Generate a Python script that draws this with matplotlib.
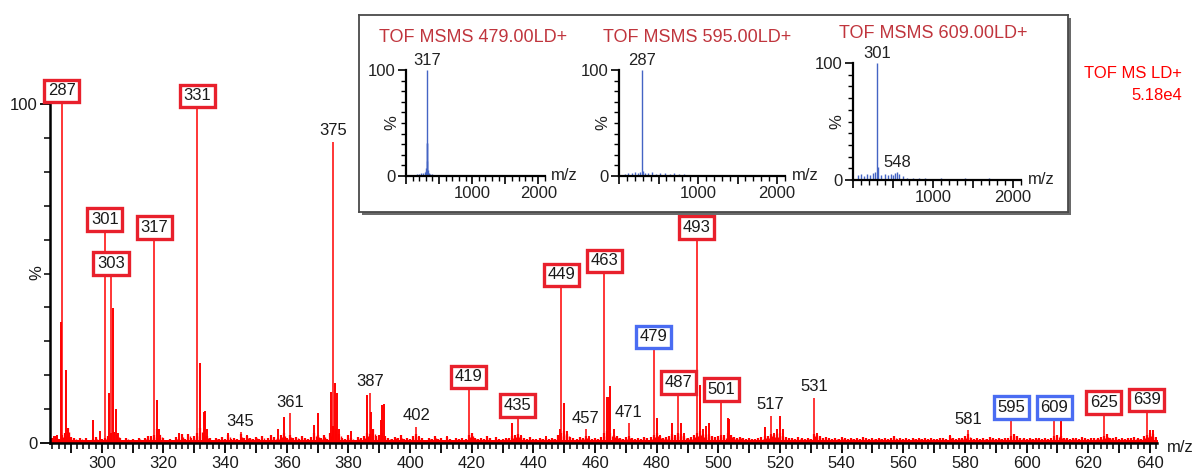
import matplotlib
matplotlib.use("Agg")
import matplotlib.pyplot as plt
from matplotlib.patches import Rectangle
from matplotlib.ticker import MultipleLocator, FixedLocator, FuncFormatter

plt.rcParams["font.family"] = ["Liberation Sans", "DejaVu Sans"]

# ---------------------------------------------------------------- data
# labelled peaks (m/z, relative intensity %)
red_box_mz = [287, 301, 303, 317, 331, 419, 435, 449, 463, 487, 493, 501, 625, 639]
red_box_int = [100, 62.0, 49.0, 59.6, 98.5, 15.6, 7.1, 45.7, 49.8, 13.9, 59.6, 11.8, 8.0, 8.8]

blue_box_mz = [479, 595, 609]
blue_box_int = [27.4, 6.5, 6.5]

plain_mz = [345, 361, 375, 387, 402, 457, 471, 517, 531, 581]
plain_int = [3.2, 8.8, 88.8, 14.8, 4.8, 4.0, 5.9, 8.0, 13.3, 3.8]

# other visible peaks without labels
minor_mz = [284.6, 285.6, 286.7, 288.5, 289.2, 297.3, 299.5, 302.3, 303.5, 304.5,
            305.2, 317.8, 318.5, 325.0, 332.0, 333.0, 333.4, 334.2, 341.0, 347.0,
            355.0, 357.0, 359.0, 369.0, 370.2, 372.0, 374.3, 375.7, 376.3, 377.0,
            381.0, 386.1, 387.3, 390.6, 391.0, 391.5, 397.0, 403.0, 412.0, 420.0,
            433.2, 436.0, 444.0, 448.6, 450.0, 451.0, 458.0, 464.0, 464.5, 465.0,
            466.0, 480.0, 481.0, 485.0, 488.0, 489.0, 494.0, 495.0, 496.0, 497.0,
            503.0, 503.5, 515.0, 518.0, 519.0, 520.0, 521.0, 532.0, 557.0, 575.0,
            596.0, 611.0, 626.0, 640.0, 641.0]
minor_int = [2.0, 2.5, 35.7, 21.5, 4.5, 6.8, 3.5, 14.8, 39.8, 10.0,
             3.0, 12.7, 4.0, 3.0, 23.6, 9.0, 9.3, 4.0, 3.0, 2.5,
             2.5, 4.0, 7.7, 5.3, 8.8, 2.5, 15.0, 17.7, 14.8, 4.0,
             3.5, 14.2, 9.0, 6.8, 11.2, 11.5, 2.5, 2.0, 2.0, 3.0,
             5.9, 2.5, 2.0, 4.0, 11.8, 3.5, 2.0, 13.6, 13.6, 16.8,
             4.0, 7.4, 2.5, 5.9, 6.0, 3.0, 17.1, 4.0, 5.0, 6.0,
             7.4, 7.0, 4.8, 3.0, 4.0, 8.0, 4.0, 3.0, 2.0, 2.5,
             2.5, 6.5, 2.5, 3.8, 3.8]

# baseline noise, one value per nominal mass from m/z 284 to 642
noise_start = 284
noise_int = [
    1.5, 2.0, 1.2, 2.5, 3.0, 4.5, 1.8, 1.5, 1.0, 1.6,
    0.8, 1.4, 1.0, 1.2, 1.7, 1.0, 1.3, 1.6, 2.0, 3.0,
    3.2, 2.5, 1.4, 1.0, 1.6, 0.9, 1.2, 0.8, 1.5, 1.0,
    1.6, 2.0, 2.2, 2.5, 4.0, 2.5, 1.4, 1.0, 1.2, 0.9,
    1.8, 1.3, 2.6, 1.2, 2.8, 1.5, 2.0, 3.0, 4.5, 3.0,
    2.2, 1.4, 1.0, 1.6, 1.2, 1.8, 1.1, 2.4, 1.3, 1.6,
    1.2, 2.6, 1.4, 2.0, 1.6, 1.1, 1.9, 1.3, 2.2, 1.0,
    1.5, 2.3, 1.8, 1.6, 2.4, 3.0, 1.6, 2.5, 1.4, 1.9,
    1.2, 2.0, 1.5, 1.1, 1.8, 3.0, 2.5, 1.6, 2.4, 1.3,
    3.0, 5.0, 4.0, 2.8, 1.6, 1.2, 2.3, 1.5, 1.0, 1.8,
    1.4, 2.0, 3.0, 2.8, 4.0, 2.0, 2.5, 3.0, 2.2, 1.6,
    1.2, 1.9, 1.4, 2.3, 1.1, 1.6, 1.3, 2.0, 2.8, 1.8,
    1.4, 1.0, 1.6, 1.2, 2.0, 1.1, 1.4, 1.0, 1.8, 1.2,
    1.0, 1.6, 1.2, 1.4, 1.1, 2.5, 3.0, 1.6, 1.2, 1.5,
    1.1, 2.0, 1.4, 1.0, 1.7, 1.3, 1.1, 1.6, 1.4, 2.0,
    2.4, 2.6, 2.0, 1.4, 1.2, 1.8, 1.3, 1.1, 1.6, 1.2,
    1.4, 1.1, 1.5, 1.3, 2.4, 3.0, 3.5, 2.8, 1.8, 1.4,
    1.2, 1.8, 1.5, 2.2, 1.4, 1.1, 1.6, 1.3, 1.8, 3.0,
    3.5, 3.0, 2.4, 2.0, 1.6, 1.3, 1.8, 2.0, 1.5, 1.1,
    1.6, 1.2, 1.9, 1.4, 1.8, 2.5, 3.0, 2.0, 1.5, 1.8,
    2.0, 2.6, 2.4, 3.0, 2.8, 2.2, 1.6, 1.8, 2.4, 3.0,
    3.5, 2.6, 2.4, 2.8, 2.2, 1.8, 2.0, 2.5, 2.3, 3.0,
    2.4, 1.8, 1.5, 1.9, 1.4, 1.2, 1.6, 1.3, 1.1, 1.5,
    1.8, 2.0, 2.2, 2.8, 2.4, 2.6, 3.0, 2.2, 1.8, 1.5,
    1.6, 1.3, 1.8, 1.4, 1.2, 1.5, 1.3, 2.8, 2.5, 2.0,
    1.6, 1.8, 1.4, 1.2, 1.5, 1.3, 1.7, 1.4, 1.1, 1.6,
    1.3, 1.5, 1.2, 1.8, 1.4, 1.1, 1.6, 1.3, 1.5, 1.2,
    1.4, 1.1, 1.6, 2.2, 1.3, 1.5, 1.2, 1.4, 1.1, 1.5,
    1.3, 1.6, 1.2, 1.4, 1.1, 1.5, 1.3, 1.2, 1.6, 1.4,
    1.2, 2.0, 1.4, 1.3, 1.6, 1.5, 2.2, 2.6, 1.6, 1.3,
    1.4, 1.2, 1.5, 1.3, 1.8, 1.4, 1.2, 1.6, 1.3, 1.5,
    1.6, 2.0, 2.8, 2.2, 1.6, 1.4, 1.2, 1.5, 1.3, 1.6,
    1.4, 1.2, 1.6, 1.3, 1.5, 2.0, 2.4, 2.0, 1.6, 1.4,
    1.2, 1.6, 1.4, 1.3, 1.8, 1.5, 1.2, 1.4, 1.6, 1.5,
    1.8, 2.0, 2.6, 1.6, 1.4, 1.7, 1.3, 1.5, 1.2, 1.6,
    1.4, 1.8, 1.5, 1.3, 2.0, 2.5, 3.0, 2.6, 1.8,
]
noise_floor = 0.8

# MS/MS product-ion spectra shown in the inset
msms_titles = ["TOF MSMS 479.00LD+", "TOF MSMS 595.00LD+", "TOF MSMS 609.00LD+"]
msms_labels = [["317"], ["287"], ["301", "548"]]
msms_label_mz = [[317], [287], [301, 548]]

ms479_mz = [120, 160, 200, 230, 260, 280, 295, 305, 310, 314, 317, 320, 326, 340,
            360, 400, 450, 520, 600, 700, 800, 900, 1000, 1100, 1200, 1300, 1400,
            1500, 1600, 1700, 1800, 1900, 2000]
ms479_int = [1.0, 1.5, 2.0, 2.5, 3.0, 4.0, 5.0, 8.0, 14.0, 31.0, 100.0, 31.0, 6.0, 3.0,
             2.0, 1.5, 1.2, 1.0, 1.0, 1.0, 1.0, 1.0, 1.0, 1.0, 1.0, 1.0, 1.0,
             1.0, 1.0, 1.0, 1.0, 1.0, 1.0]

ms595_mz = [80, 120, 160, 200, 240, 270, 287, 300, 330, 370, 420, 470, 520, 580,
            640, 700, 760, 820, 900, 1000, 1100, 1200, 1300, 1400, 1500, 1600,
            1700, 1800, 1900, 2000]
ms595_int = [2.0, 3.0, 2.5, 3.5, 3.0, 4.0, 100.0, 5.0, 3.0, 2.5, 3.5, 2.0, 3.0, 2.5,
             2.0, 2.5, 1.5, 2.0, 1.0, 1.0, 1.0, 1.0, 1.0, 1.0, 1.0, 1.0,
             1.0, 1.0, 1.0, 1.0]

ms609_mz = [60, 100, 140, 180, 210, 250, 280, 301, 310, 350, 400, 440, 470, 500,
            520, 548, 580, 620, 680, 750, 820, 900, 1000, 1100, 1200, 1300, 1400,
            1500, 1600, 1700, 1800, 1900, 2000]
ms609_int = [4.0, 5.0, 3.0, 5.0, 4.0, 6.0, 7.0, 100.0, 11.0, 4.0, 5.0, 4.0, 5.0, 4.0,
             6.0, 7.0, 5.0, 3.0, 2.0, 2.0, 1.5, 1.5, 1.0, 1.5, 1.0, 1.0, 1.5,
             1.0, 1.0, 1.5, 1.0, 1.0, 1.0]

# ---------------------------------------------------------------- figure
W, H = 1198, 470
fig = plt.figure(figsize=(W / 100, H / 100), dpi=100)


def px_rect(left, top, right, bottom):
    """Figure-fraction rectangle from pixel edges."""
    return [left / W, 1 - bottom / H, (right - left) / W, (bottom - top) / H]


RED = "#ff0000"
BOX_RED = "#e8202c"
BOX_BLUE = "#4a6cf2"
INK = "#1a1a1a"

ax = fig.add_axes(px_rect(50, 104, 1157, 443))
ax.set_xlim(283.2, 642.3)
ax.set_ylim(0, 100)

# baseline noise
noise_mz = [noise_start + i for i in range(len(noise_int))]
ax.fill_between([noise_mz[0], noise_mz[-1] + 1], 0, noise_floor, color=RED, lw=0)
ax.vlines(noise_mz, 0, noise_int, colors=RED, lw=1.6)
ax.vlines([m + 0.5 for m in noise_mz], 0, [v * 0.7 for v in noise_int], colors=RED, lw=1.0)

ax.vlines(minor_mz, 0, minor_int, colors=RED, lw=1.4)
ax.vlines(red_box_mz + blue_box_mz + plain_mz, 0,
          red_box_int + blue_box_int + plain_int, colors=RED, lw=1.1)

label_font = dict(fontsize=12, color=INK)
for mz, h in zip(plain_mz, plain_int):
    ax.annotate(str(mz), xy=(mz, h), xytext=(0, 2.5), textcoords="offset points",
                ha="center", va="bottom", **label_font)


def boxed(mz, h, edge):
    ax.annotate(str(mz), xy=(mz, h), xytext=(0, 4.2), textcoords="offset points",
                ha="center", va="bottom", annotation_clip=False, **label_font,
                bbox=dict(boxstyle="square,pad=0.22", fc="white", ec=edge, lw=2.4))


for mz, h in zip(red_box_mz, red_box_int):
    boxed(mz, h, BOX_RED)
for mz, h in zip(blue_box_mz, blue_box_int):
    boxed(mz, h, BOX_BLUE)

# axes styling
for side in ("top", "right"):
    ax.spines[side].set_visible(False)
for side in ("left", "bottom"):
    ax.spines[side].set_linewidth(1.8)
    ax.spines[side].set_color("black")
ax.xaxis.set_major_locator(MultipleLocator(10))
ax.xaxis.set_minor_locator(MultipleLocator(2))
ax.xaxis.set_major_formatter(FuncFormatter(lambda v, p: f"{v:.0f}" if round(v) % 20 == 0 else ""))
ax.yaxis.set_major_locator(FixedLocator([0, 100]))
ax.yaxis.set_minor_locator(MultipleLocator(10))
ax.tick_params(axis="both", which="major", direction="out", length=7, width=1.3,
               labelsize=12, labelcolor=INK, pad=2)
ax.tick_params(axis="both", which="minor", direction="out", length=4, width=1.1)
fig.text(37 / W, 1 - 273 / H, "%", rotation=90, ha="center", va="center",
         fontsize=12, color=INK)
fig.text(1167 / W, 1 - 448 / H, "m/z", ha="left", va="center", fontsize=12, color=INK)
fig.text(1182 / W, 1 - 73 / H, "TOF MS LD+", ha="right", va="center", fontsize=12, color=RED)
fig.text(1182 / W, 1 - 95 / H, "5.18e4", ha="right", va="center", fontsize=12, color=RED)

# ---------------------------------------------------------------- inset panel
shadow = Rectangle((362 / W, 1 - 215 / H), (1068 - 359) / W, (212 - 15) / H,
                   transform=fig.transFigure, fc="#6a6a6a", ec="none", zorder=5)
fig.patches.append(shadow)
frame = fig.add_axes(px_rect(359, 15, 1068, 212), zorder=6)
frame.set_xticks([])
frame.set_yticks([])
frame.set_facecolor("white")
for s in frame.spines.values():
    s.set_color("#4a4a4a")
    s.set_linewidth(1.3)

inset_rects = [px_rect(406, 70, 545, 176), px_rect(619, 70, 785, 176), px_rect(853, 63, 1021, 180)]
inset_title_xy = [(379, 38), (603, 38), (839, 33)]
inset_series = [(ms479_mz, ms479_int), (ms595_mz, ms595_int), (ms609_mz, ms609_int)]
BLUE = "#4464c4"
TITLE = "#c0353d"

for rect, (tx, ty), title, (mzs, ints), labs, lab_mz in zip(
        inset_rects, inset_title_xy, msms_titles, inset_series, msms_labels, msms_label_mz):
    sub = fig.add_axes(rect, zorder=7)
    sub.patch.set_alpha(0)
    sub.set_xlim(0, 2100)
    sub.set_ylim(0, 100)
    sub.vlines(mzs, 0, ints, colors=BLUE, lw=1.0)
    sub.fill_between([0, 2050], 0, 1.2, color=BLUE, lw=0)
    for s in ("top", "right"):
        sub.spines[s].set_visible(False)
    for s in ("left", "bottom"):
        sub.spines[s].set_linewidth(1.6)
    sub.xaxis.set_major_locator(MultipleLocator(500))
    sub.xaxis.set_minor_locator(MultipleLocator(100))
    sub.xaxis.set_major_formatter(FuncFormatter(lambda v, p: f"{v:.0f}" if v in (1000, 2000) else ""))
    sub.yaxis.set_major_locator(FixedLocator([0, 100]))
    sub.yaxis.set_minor_locator(MultipleLocator(10))
    sub.tick_params(axis="both", which="major", direction="out", length=6, width=1.2,
                    labelsize=12, labelcolor="#222222", pad=1.5)
    sub.tick_params(axis="both", which="minor", direction="out", length=3.5, width=1.0)
    sub.text(-0.05, 0.5, "%", transform=sub.transAxes, rotation=90, ha="right",
             va="center", fontsize=12, color="#222222")
    sub.text(1.04, 0.0, "m/z", transform=sub.transAxes, ha="left", va="center",
             fontsize=12, color="#222222")
    for lab, lm in zip(labs, lab_mz):
        hv = ints[mzs.index(lm)]
        sub.annotate(lab, xy=(lm, hv), xytext=(0, 1.5), textcoords="offset points",
                     ha="center", va="bottom", fontsize=12, color="#222222",
                     annotation_clip=False)
    fig.text(tx / W, 1 - ty / H, title, ha="left", va="center", fontsize=13, color=TITLE,
             zorder=8)

fig.savefig("out.png", dpi=100)
